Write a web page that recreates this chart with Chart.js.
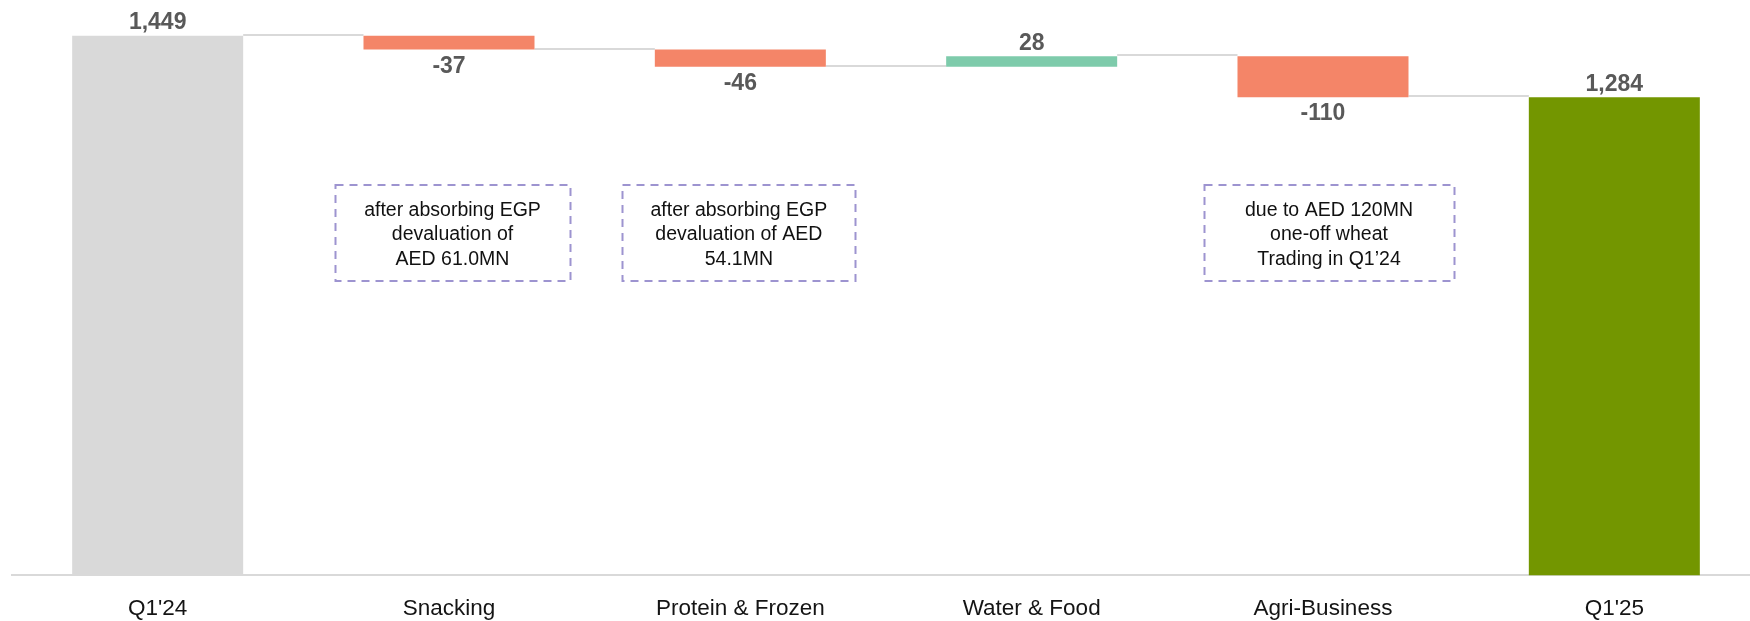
<!DOCTYPE html>
<html>
<head>
<meta charset="utf-8">
<script src="https://cdn.jsdelivr.net/npm/chart.js@4/dist/chart.umd.min.js"></script>
<style>
  html, body { margin: 0; padding: 0; background: #ffffff; overflow: hidden; }
  #wrap { position: relative; width: 1750px; height: 621px; overflow: hidden; }
  canvas { display: block; }
</style>
</head>
<body>
<div id="wrap"><canvas id="c" width="1762" height="642"></canvas></div>
<script>
// Revenue bridge Q1'24 -> Q1'25 (AED MN)
const categories = ["Q1'24", "Snacking", "Protein & Frozen", "Water & Food", "Agri-Business", "Q1'25"];
const openingTotal = 1449;
const segmentChanges = [-37, -46, 28, -110];
const closingTotal = 1284;

// Commentary boxes under selected segments
const noteCategories = [1, 2, 4];
const noteLines = [
  ["after absorbing EGP", "devaluation of", "AED 61.0MN"],
  ["after absorbing EGP", "devaluation of AED", "54.1MN"],
  ["due to AED 120MN", "one-off wheat", "Trading in Q1\u201924"]
];

const FONT = "'Liberation Sans', Arial, sans-serif";
const COLORS = { total: '#d9d9d9', closing: '#739600', down: '#f48568', up: '#7ecbab' };

// Floating [start, end] ranges for the waterfall
const ranges = [[0, openingTotal]];
const shown = [openingTotal];
let running = openingTotal;
segmentChanges.forEach(c => {
  ranges.push([running, running + c]);
  shown.push(c);
  running += c;
});
ranges.push([0, closingTotal]);
shown.push(closingTotal);

const barColors = shown.map((v, i) => {
  if (i === 0) return COLORS.total;
  if (i === shown.length - 1) return COLORS.closing;
  return v < 0 ? COLORS.down : COLORS.up;
});

const fmt = v => (v < 0 ? '-' : '') + Math.abs(v).toLocaleString('en-US');

// Step connectors, value labels and note boxes
const waterfallExtras = {
  id: 'waterfallExtras',
  beforeDatasetsDraw(chart) {
    const { ctx } = chart;
    const y = chart.scales.y;
    const bars = chart.getDatasetMeta(0).data;
    ctx.save();
    ctx.strokeStyle = '#d9d9d9';
    ctx.lineWidth = 2;
    for (let i = 0; i < bars.length - 1; i++) {
      const level = ranges[i][1];
      const py = Math.round(y.getPixelForValue(level)) - 1;
      const a = bars[i], b = bars[i + 1];
      ctx.beginPath();
      ctx.moveTo(a.x + a.width / 2, py);
      ctx.lineTo(b.x - b.width / 2, py);
      ctx.stroke();
    }
    ctx.restore();
  },
  afterDatasetsDraw(chart) {
    const { ctx } = chart;
    const bars = chart.getDatasetMeta(0).data;
    ctx.save();
    ctx.font = 'bold 23px ' + FONT;
    ctx.fillStyle = '#595959';
    ctx.textAlign = 'center';
    ctx.textBaseline = 'alphabetic';
    bars.forEach((bar, i) => {
      const top = Math.min(bar.y, bar.base);
      const bottom = Math.max(bar.y, bar.base);
      const v = shown[i];
      if (v < 0) {
        ctx.fillText(fmt(v), bar.x, bottom + 23);
      } else {
        ctx.fillText(fmt(v), bar.x, top - 6.5);
      }
    });

    // note boxes
    const x = chart.scales.x;
    const boxGeom = [{ dx: 3.5, w: 235 }, { dx: -1.5, w: 233 }, { dx: 6, w: 250 }];
    const boxTop = 185, boxBottom = 281;
    const lineGap = 24.5;
    noteCategories.forEach((cat, k) => {
      const g = boxGeom[k];
      const cx = x.getPixelForValue(cat) + g.dx;
      const left = Math.round(cx - g.w / 2) + 0.5;
      ctx.save();
      ctx.strokeStyle = '#9d94d0';
      ctx.lineWidth = 2;
      ctx.setLineDash([8, 6]);
      ctx.strokeRect(left, boxTop, g.w, boxBottom - boxTop);
      ctx.restore();
      ctx.font = '19.5px ' + FONT;
      ctx.fillStyle = '#111111';
      ctx.textAlign = 'center';
      const lines = noteLines[k];
      const mid = (boxTop + boxBottom) / 2;
      lines.forEach((t, j) => {
        const capMid = mid + (j - (lines.length - 1) / 2) * lineGap;
        ctx.fillText(t, cx, capMid + 7);
      });
    });
    ctx.restore();
  }
};

new Chart(document.getElementById('c'), {
  type: 'bar',
  data: {
    labels: categories,
    datasets: [{
      data: ranges,
      backgroundColor: barColors,
      borderWidth: 0,
      barPercentage: 0.587,
      categoryPercentage: 1.0
    }]
  },
  options: {
    responsive: false,
    devicePixelRatio: 1,
    animation: false,
    layout: { padding: { left: 12, right: 2, top: 0, bottom: 0 } },
    plugins: { legend: { display: false }, tooltip: { enabled: false } },
    scales: {
      x: {
        grid: { display: false, drawTicks: false },
        border: { display: true, color: '#d9d9d9', width: 2 },
        ticks: {
          color: '#141414',
          padding: 19.8,
          maxRotation: 0,
          autoSkip: false,
          font: { family: FONT, size: 22.5 }
        }
      },
      y: { display: false, min: 0, max: 1545 }
    }
  },
  plugins: [waterfallExtras]
});
</script>
</body>
</html>
